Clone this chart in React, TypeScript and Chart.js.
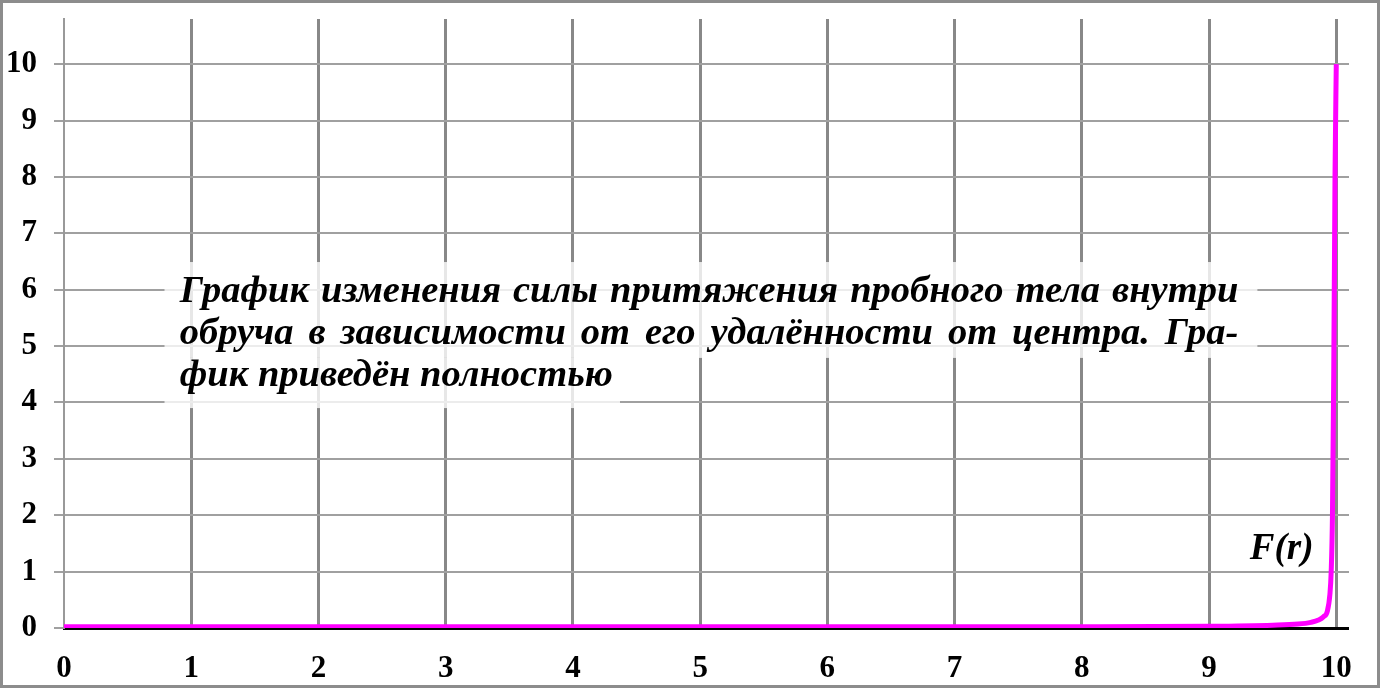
import { Chart, registerables } from 'chart.js';
import { useEffect, useRef } from 'react';

Chart.register(...registerables);

// distance from the centre of the hoop (r) and the attraction force F(r)
const rValues = [0, 1, 2, 3, 4, 5, 6, 7, 8, 9, 9.5, 9.7, 9.8, 9.86, 9.9, 9.93, 9.95, 9.96, 9.97, 9.98, 9.99, 10];
const forceValues = [0.02, 0.02, 0.02, 0.02, 0.02, 0.02, 0.02, 0.02, 0.02, 0.03, 0.05, 0.07, 0.1, 0.14, 0.2, 0.3, 0.6, 1.0, 2.0, 4.5, 8.0, 10];

const xTickValues = [0, 1, 2, 3, 4, 5, 6, 7, 8, 9, 10];
const yTickValues = [0, 1, 2, 3, 4, 5, 6, 7, 8, 9, 10];

const captionLines = [
    'График изменения силы притяжения пробного тела внутри',
    'обруча в зависимости от его удалённости от центра. Гра-',
    'фик приведён полностью',
];
const curveLabel = 'F(r)';

const X_MAX = 10.1;
const Y_MAX = 10.8;
const SERIF = '"Liberation Serif", "Times New Roman", serif';

// caption box + text, curve label and frame round the picture
const overlayPlugin = {
    id: 'overlay',
    afterDraw(chart: any) {
        const { ctx, scales } = chart;
        const x = scales.x;
        const y = scales.y;
        const px = (v: number) => x.getPixelForValue(v);
        const py = (v: number) => y.getPixelForValue(v);

        ctx.save();
        // semi transparent white backdrop behind the caption
        ctx.fillStyle = 'rgba(255,255,255,0.8)';
        ctx.fillRect(px(0.79), py(6.49), px(9.38) - px(0.79), py(4.79) - py(6.49));
        ctx.fillRect(px(0.79), py(4.79), px(4.37) - px(0.79), py(3.9) - py(4.79));

        ctx.fillStyle = '#000';
        ctx.font = `italic bold 38.5px ${SERIF}`;
        ctx.textBaseline = 'alphabetic';
        ctx.textAlign = 'left';
        const left = px(0.91);
        const right = px(9.23);
        const baselines = [5.78, 5.04, 4.29];
        captionLines.forEach((line, i) => {
            const yy = py(baselines[i]);
            if (i === captionLines.length - 1) {
                ctx.fillText(line, left, yy);
                return;
            }
            const words = line.split(' ');
            const widths = words.map((w) => ctx.measureText(w).width);
            const total = widths.reduce((a, b) => a + b, 0);
            const gap = (right - left - total) / (words.length - 1);
            let cx = left;
            words.forEach((w, j) => {
                ctx.fillText(w, cx, yy);
                cx += widths[j] + gap;
            });
        });

        ctx.font = `italic bold 37px ${SERIF}`;
        ctx.fillText(curveLabel, px(9.32), py(1.22));

        // outer frame
        ctx.strokeStyle = '#8c8c8c';
        ctx.lineWidth = 3;
        ctx.strokeRect(1.5, 1.5, chart.width - 3, chart.height - 3);
        ctx.restore();
    },
};

function ForceChart() {
    const chartRef = useRef<HTMLCanvasElement | null>(null);
    const chartInstanceRef = useRef<Chart | null>(null);

    useEffect(() => {
        document.body.style.margin = '0';
        if (!chartRef.current) return;
        const ctx = chartRef.current.getContext('2d');
        if (!ctx) return;

        chartInstanceRef.current = new Chart(ctx, {
            type: 'scatter',
            data: {
                datasets: [
                    {
                        label: curveLabel,
                        data: rValues.map((r, i) => ({ x: r, y: forceValues[i] })),
                        showLine: true,
                        borderColor: '#ff00ff',
                        backgroundColor: '#ff00ff',
                        borderWidth: 5,
                        pointRadius: 0,
                        cubicInterpolationMode: 'monotone',
                    },
                ],
            },
            options: {
                responsive: false,
                animation: false,
                layout: { padding: { top: 19, right: 31, left: 0, bottom: 0 } },
                plugins: {
                    legend: { display: false },
                    tooltip: { enabled: false },
                },
                scales: {
                    x: {
                        type: 'linear',
                        min: 0,
                        max: X_MAX,
                        afterBuildTicks: (scale: any) => {
                            scale.ticks = xTickValues.map((v) => ({ value: v }));
                        },
                        afterFit: (scale: any) => {
                            scale.height = 60;
                            scale.paddingLeft = 0;
                            scale.paddingRight = 0;
                        },
                        ticks: {
                            color: '#000',
                            padding: 22,
                            font: { family: SERIF, size: 31, weight: 'bold' },
                        },
                        grid: {
                            color: '#888',
                            lineWidth: (c: any) => (c.tick && c.tick.value === 0 ? 0 : 3),
                            drawTicks: false,
                        },
                        border: { display: true, color: '#000', width: 3 },
                    },
                    y: {
                        min: 0,
                        max: Y_MAX,
                        afterBuildTicks: (scale: any) => {
                            scale.ticks = yTickValues.map((v) => ({ value: v }));
                        },
                        afterFit: (scale: any) => {
                            scale.width = 64;
                            scale.paddingTop = 0;
                            scale.paddingBottom = 0;
                        },
                        ticks: {
                            color: '#000',
                            padding: 17,
                            font: { family: SERIF, size: 31, weight: 'bold' },
                        },
                        grid: {
                            color: '#a0a0a0',
                            lineWidth: 2,
                            drawTicks: true,
                            tickLength: 10,
                        },
                        border: { display: true, color: '#999', width: 2 },
                    },
                },
            },
            plugins: [overlayPlugin],
        });

        return () => {
            if (chartInstanceRef.current) {
                chartInstanceRef.current.destroy();
                chartInstanceRef.current = null;
            }
        };
    }, []);

    return <canvas ref={chartRef} width='1380' height='688'></canvas>;
}

export default function App() {
    return (
        <div style={{ width: 1380, height: 688, background: '#fff' }}>
            <ForceChart />
        </div>
    );
}
